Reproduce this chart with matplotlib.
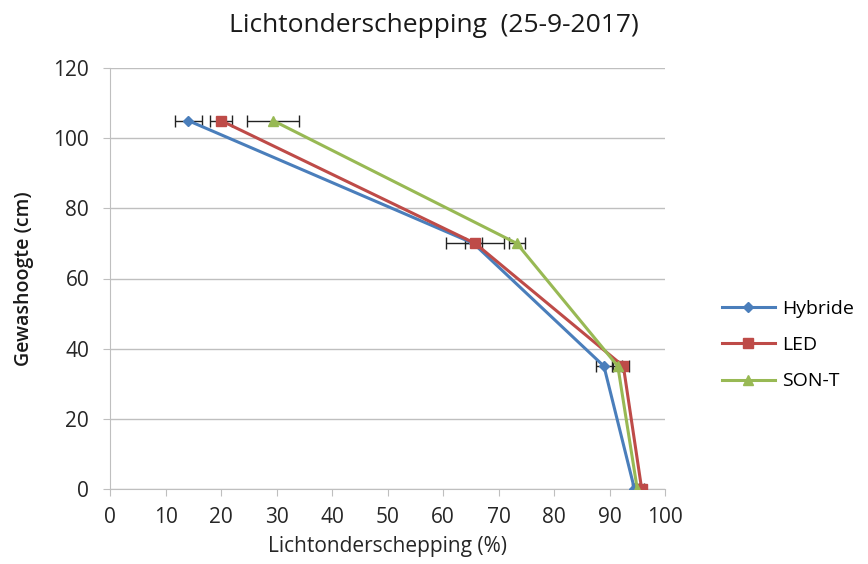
import matplotlib
matplotlib.use("Agg")
import matplotlib.pyplot as plt
from matplotlib.lines import Line2D

heights = [105, 70, 35, 0]
hybride = [14.1, 65.5, 89.0, 94.5]
led = [20.0, 65.8, 92.5, 95.8]
sont = [29.4, 73.3, 91.5, 95.0]
hybride_err = [2.4, 1.5, 1.5, 0.4]
led_err = [2.0, 5.2, 1.0, 0.5]
sont_err = [4.7, 1.4, 0.8, 0.5]

plt.rcParams['font.family'] = ['Open Sans', 'DejaVu Sans']

fig = plt.figure(figsize=(8.68, 5.64), dpi=100)
ax = fig.add_axes([110/868, 1-489/564, 555/868, 421/564])

series = [("Hybride", hybride, hybride_err, "#4a7ebb", "D", 5.5),
          ("LED", led, led_err, "#be4b48", "s", 6.5),
          ("SON-T", sont, sont_err, "#98b954", "^", 6.5)]
for name, vals, err, col, mk, ms in series:
    ax.errorbar(vals, heights, xerr=err, color=col, marker=mk, markersize=ms,
                linewidth=2.2, ecolor="#222222", elinewidth=1, capsize=4,
                capthick=1, label=name, zorder=3)

ax.set_xlim(0, 100)
ax.set_ylim(0, 120)
ax.set_xticks(range(0, 101, 10))
ax.set_yticks(range(0, 121, 20))
ax.yaxis.grid(True, color="#bfbfbf", linewidth=1)
ax.set_axisbelow(True)
for s in ["top", "right"]:
    ax.spines[s].set_visible(False)
ax.spines["left"].set_color("#bfbfbf")
ax.spines["bottom"].set_color("#bfbfbf")
ax.tick_params(axis="x", colors="#bfbfbf", length=5, labelcolor="#262626", labelsize=15, pad=8)
ax.tick_params(axis="y", colors="#bfbfbf", length=5, labelcolor="#262626", labelsize=15, pad=10)
ax.set_xlabel("Lichtonderschepping (%)", fontsize=15, color="#262626", labelpad=6)
ax.set_ylabel("Gewashoogte (cm)", fontsize=14, color="#1a1a1a", fontweight="semibold", labelpad=14)
fig.text(0.5, 1-25/564, "Lichtonderschepping  (25-9-2017)", fontsize=19, color="#1a1a1a",
         ha="center", va="center")

hs = [Line2D([], [], color=c, marker=m, markersize=ms, linewidth=2.2) for _, _, _, c, m, ms in series]
fig.legend(hs, [s[0] for s in series], loc="center left", bbox_to_anchor=(722/868, 1-345/564),
           frameon=False, fontsize=14, handlelength=2.7, labelspacing=0.95, handletextpad=0.4,
           borderpad=0, borderaxespad=0)

fig.savefig("out.png", dpi=100)
